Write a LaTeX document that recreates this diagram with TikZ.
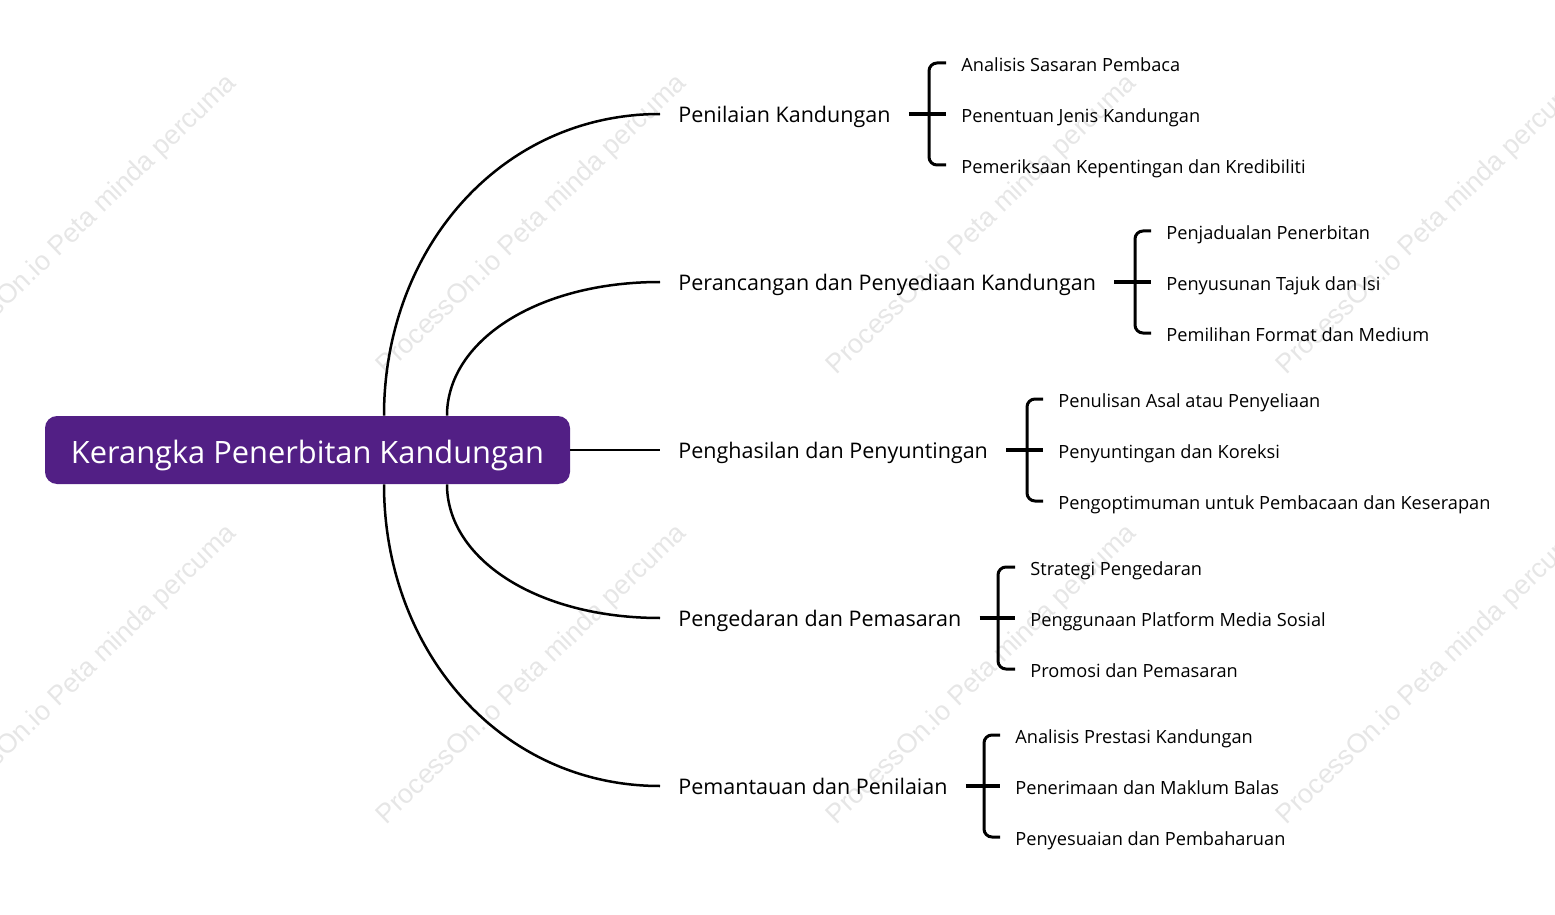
\documentclass[tikz,border=0pt]{standalone}
\usepackage{fontspec}
\setmainfont{Open Sans}
\newfontfamily\wmfont{Liberation Sans}
\definecolor{rootpurple}{HTML}{521F85}
\definecolor{wmgray}{HTML}{E6E6E6}
\tikzset{
  wm/.style={font=\wmfont\fontsize{13.5pt}{15pt}\selectfont, text=wmgray, rotate=44, inner sep=0pt},
  rootbox/.style={fill=rootpurple, rounded corners=6pt, text=white, minimum width=262.5pt, minimum height=34pt, inner sep=0pt,
    font=\fontsize{15.4pt}{18pt}\selectfont, text height=14pt, text depth=1pt},
  lone/.style={anchor=west, inner xsep=9pt, inner ysep=0pt, font=\fontsize{10.75pt}{13pt}\selectfont, text height=9.4pt, text depth=0.7pt},
  ltwo/.style={anchor=west, inner xsep=7.5pt, inner ysep=0pt, font=\fontsize{9.1pt}{11pt}\selectfont, text height=8.6pt, text depth=0.3pt},
  conn/.style={draw=black, line width=1.25pt},
  brace/.style={draw=black, line width=1.5pt, rounded corners=4pt},
  stub/.style={draw=black, line width=2pt},
}
\begin{document}
\begin{tikzpicture}[x=0.5pt,y=-0.5pt]
\useasboundingbox (0,0) rectangle (1555,915);
% watermarks
\foreach \wx in {82,532,982,1432}{
  \foreach \wy in {225,675}{
    \node[wm] (wm-\wx-\wy) at (\wx,\wy) {ProcessOn.io Peta minda percuma};
  }
}
% root
\node[rootbox] (root) at (307.5,450) {Kerangka Penerbitan Kandungan};
% level 1
\node[lone] (p1) at (660,114) {Penilaian Kandungan};
\node[lone] (p2) at (660,282) {Perancangan dan Penyediaan Kandungan};
\node[lone] (p3) at (660,450) {Penghasilan dan Penyuntingan};
\node[lone] (p4) at (660,618) {Pengedaran dan Pemasaran};
\node[lone] (p5) at (660,786) {Pemantauan dan Penilaian};
% connectors root -> level 1
\draw[conn] ([xshift=38.25pt]root.north) .. controls +(0,-166) and +(-160,0) .. (p1.west);
\draw[conn] ([xshift=69.75pt]root.north) .. controls +(0,-74) and +(-124,0) .. (p2.west);
\draw[conn] (root.east) -- (p3.west);
\draw[conn] ([xshift=69.75pt]root.south) .. controls +(0,74) and +(-124,0) .. (p4.west);
\draw[conn] ([xshift=38.25pt]root.south) .. controls +(0,166) and +(-160,0) .. (p5.west);
% level 2 : group 1
\node[ltwo] (c1a) at (946,63) {Analisis Sasaran Pembaca};
\node[ltwo] (c1b) at (946,114) {Penentuan Jenis Kandungan};
\node[ltwo] (c1c) at (946,165) {Pemeriksaan Kepentingan dan Kredibiliti};
\coordinate (b1) at (929,114);
% group 2
\node[ltwo] (c2a) at (1151,231) {Penjadualan Penerbitan};
\node[ltwo] (c2b) at (1151,282) {Penyusunan Tajuk dan Isi};
\node[ltwo] (c2c) at (1151,333) {Pemilihan Format dan Medium};
\coordinate (b2) at (1135,282);
% group 3
\node[ltwo] (c3a) at (1043,399) {Penulisan Asal atau Penyeliaan};
\node[ltwo] (c3b) at (1043,450) {Penyuntingan dan Koreksi};
\node[ltwo] (c3c) at (1043,501) {Pengoptimuman untuk Pembacaan dan Keserapan};
\coordinate (b3) at (1027,450);
% group 4
\node[ltwo] (c4a) at (1015,567) {Strategi Pengedaran};
\node[ltwo] (c4b) at (1015,618) {Penggunaan Platform Media Sosial};
\node[ltwo] (c4c) at (1015,669) {Promosi dan Pemasaran};
\coordinate (b4) at (998,618);
% group 5
\node[ltwo] (c5a) at (1000,735) {Analisis Prestasi Kandungan};
\node[ltwo] (c5b) at (1000,786) {Penerimaan dan Maklum Balas};
\node[ltwo] (c5c) at (1000,837) {Penyesuaian dan Pembaharuan};
\coordinate (b5) at (984,786);
% braces and stubs
\foreach \g in {1,2,3,4,5}{
  \draw[brace] (c\g a.west) -| (b\g) |- (c\g c.west);
  \draw[stub] (p\g.east) -- (c\g b.west);
}
\end{tikzpicture}
\end{document}
